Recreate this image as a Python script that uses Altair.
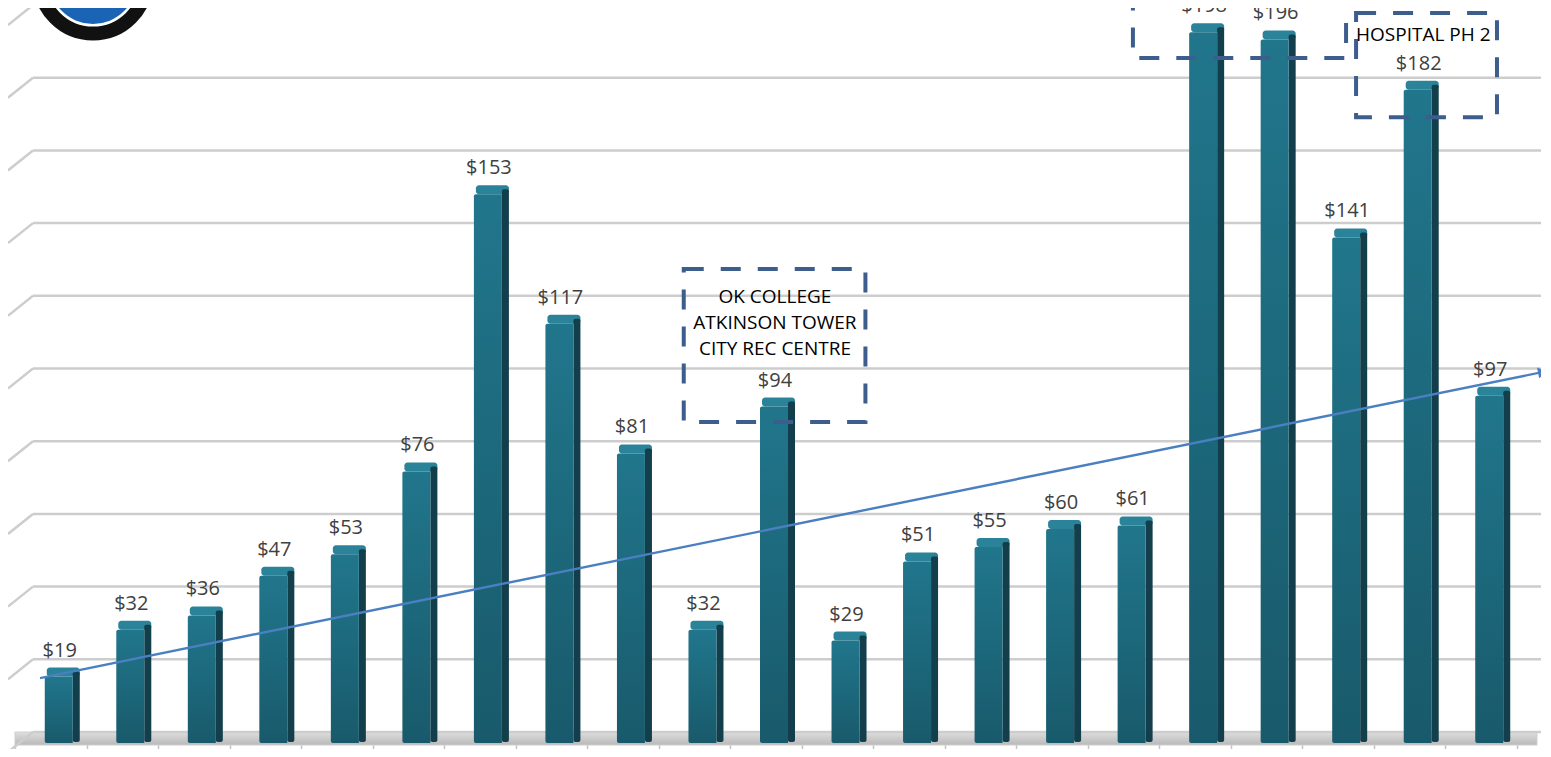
import altair as alt
import pandas as pd

# ---- data ----
values = [19, 32, 36, 47, 53, 76, 153, 117, 81, 32, 94, 29, 51, 55, 60, 61, 198, 196, 141, 182, 97]
labels = ["$" + str(v) for v in values]
positions = [i + 0.5 for i in range(len(values))]
band_edges = list(range(len(values) + 1))
grid_levels = [0, 20, 40, 60, 80, 100, 120, 140, 160, 180, 200]

arrow_x = [0.35, 21.36]
arrow_y = [18.6, 103.6]

box_x = [9.35, 15.63, 18.75]
box_x2 = [11.89, 18.61, 20.72]
box_y = [132.2, 223.6, 203.3]
box_y2 = [89.7, 190.8, 174.4]

note_text = ["OK COLLEGE", "ATKINSON TOWER", "CITY REC CENTRE", "HOSPITAL PH 2"]
note_x = [10.625, 10.625, 10.625, 19.69]
note_y = [124.4, 117.2, 110.0, 197.2]

# ---- tables ----
bars = pd.DataFrame({"pos": positions, "value": values, "label": labels,
                     "base": [0] * len(values)})
grid = pd.DataFrame({"level": grid_levels})
floor = pd.DataFrame({"x0": [band_edges[0]], "x1": [band_edges[-1]], "lv": [0]})
arrow = pd.DataFrame({"x": arrow_x, "y": arrow_y})
arrow_head = pd.DataFrame({"x": [arrow_x[-1]], "y": [arrow_y[-1]]})
boxes = pd.DataFrame({"x": box_x, "x2": box_x2, "y": box_y, "y2": box_y2})
notes = pd.DataFrame({"x": note_x, "y": note_y, "text": note_text})
logo = pd.DataFrame({"k": [0]})

xs = alt.Scale(domain=[0, 21], nice=False, zero=False)
ys = alt.Scale(domain=[0.56, 200.83], nice=False, zero=False)   # front plane
gs = alt.Scale(domain=[-3.02, 195.33], nice=False, zero=False)  # back-wall plane
xaxis = alt.Axis(values=band_edges, labels=False, domain=False, grid=False,
                 ticks=True, tickColor="#c4c4c4", tickWidth=1.5, tickSize=5,
                 offset=1, title=None)

font = "Open Sans"

# logo fragment (top-left)
logo_ring = alt.Chart(logo).mark_point(
    shape="circle", size=107 * 107, filled=False, stroke="#111111", strokeWidth=14,
    fill="#ffffff", fillOpacity=1
).encode(x=alt.value(83), y=alt.value(-42))
logo_core = alt.Chart(logo).mark_point(
    shape="circle", size=88 * 88, filled=True, color="#1b63b5", opacity=1
).encode(x=alt.value(83), y=alt.value(-42))

floor_layer = alt.Chart(floor).mark_rect(
    y2Offset=13, x2Offset=20,
    fill=alt.Gradient(gradient="linear", x1=0, x2=0, y1=0, y2=1,
                      stops=[alt.GradientStop(offset=0, color="#dedede"),
                             alt.GradientStop(offset=1, color="#b9b9b9")]),
    stroke="#cfcfcf", strokeWidth=1
).encode(
    x=alt.X("x0:Q", scale=xs, axis=xaxis), x2="x1:Q",
    y=alt.Y("lv:Q", scale=gs, axis=None), y2="lv:Q"
)

grid_slant = alt.Chart(grid).mark_rule(
    color="#cdcdcd", strokeWidth=2.5, yOffset=20
).encode(
    x=alt.value(-2), x2=alt.value(23),
    y=alt.Y("level:Q", scale=gs, axis=None), y2="level:Q"
)
grid_lines = alt.Chart(grid).mark_rule(
    color="#cdcdcd", strokeWidth=2.5
).encode(
    x=alt.value(23), x2=alt.value(1545),
    y=alt.Y("level:Q", scale=gs, axis=None)
)

X = alt.X("pos:Q", scale=xs, axis=xaxis)
Y = alt.Y("value:Q", scale=ys, axis=None)

bar_cap = alt.Chart(bars).mark_bar(
    size=33, xOffset=12.5, yOffset=-9, color="#2a8398", cornerRadius=3
).encode(x=X, y=Y, y2="value:Q")

bar_side = alt.Chart(bars).mark_bar(
    size=7, xOffset=25.5, yOffset=-5, y2Offset=-3, color="#123f4b",
    cornerRadius=2
).encode(x=X, y=Y, y2="base:Q")

bar_front = alt.Chart(bars).mark_bar(
    size=28, xOffset=8, y2Offset=-2, cornerRadiusTopLeft=2, cornerRadiusBottomLeft=2,
    color=alt.Gradient(gradient="linear", x1=0, x2=0, y1=0, y2=1,
                       stops=[alt.GradientStop(offset=0, color="#21768c"),
                              alt.GradientStop(offset=1, color="#185a6b")])
).encode(x=X, y=Y, y2="base:Q")

bar_labels = alt.Chart(bars).mark_text(
    dx=9, dy=-26, baseline="middle", align="center",
    font=font, fontSize=20, color="#404040"
).encode(x=X, y=Y, text="label:N")

arrow_line = alt.Chart(arrow).mark_line(
    color="#4a7fc1", strokeWidth=2.4
).encode(x=alt.X("x:Q", scale=xs, axis=xaxis), y=alt.Y("y:Q", scale=ys, axis=None))

arrow_tip = alt.Chart(arrow_head).mark_point(
    shape="triangle-right", filled=True, color="#4a7fc1", size=120, angle=348.5, opacity=1
).encode(x=alt.X("x:Q", scale=xs, axis=xaxis), y=alt.Y("y:Q", scale=ys, axis=None))

box_layer = alt.Chart(boxes).mark_rect(
    fillOpacity=0, stroke="#3d5d8d", strokeWidth=4, strokeDash=[20, 17]
).encode(
    x=alt.X("x:Q", scale=xs, axis=xaxis), x2="x2:Q",
    y=alt.Y("y:Q", scale=ys, axis=None), y2="y2:Q"
)

note_layer = alt.Chart(notes).mark_text(
    font=font, fontSize=19, color="#000000", baseline="middle", align="center"
).encode(
    x=alt.X("x:Q", scale=xs, axis=xaxis), y=alt.Y("y:Q", scale=ys, axis=None),
    text="text:N"
)

chart = alt.layer(
    logo_ring, logo_core, floor_layer, grid_slant, grid_lines,
    bar_cap, bar_side, bar_front, bar_labels,
    arrow_line, arrow_tip, box_layer, note_layer
).resolve_scale(
    y="independent"
).properties(
    width=1512, height=721,
    autosize="none",
    padding={"left": 2, "top": 14, "right": 19, "bottom": 6},
    background="#ffffff"
).configure_view(stroke=None)

chart.save("out.html", embed_options={"renderer": "svg", "actions": False})
